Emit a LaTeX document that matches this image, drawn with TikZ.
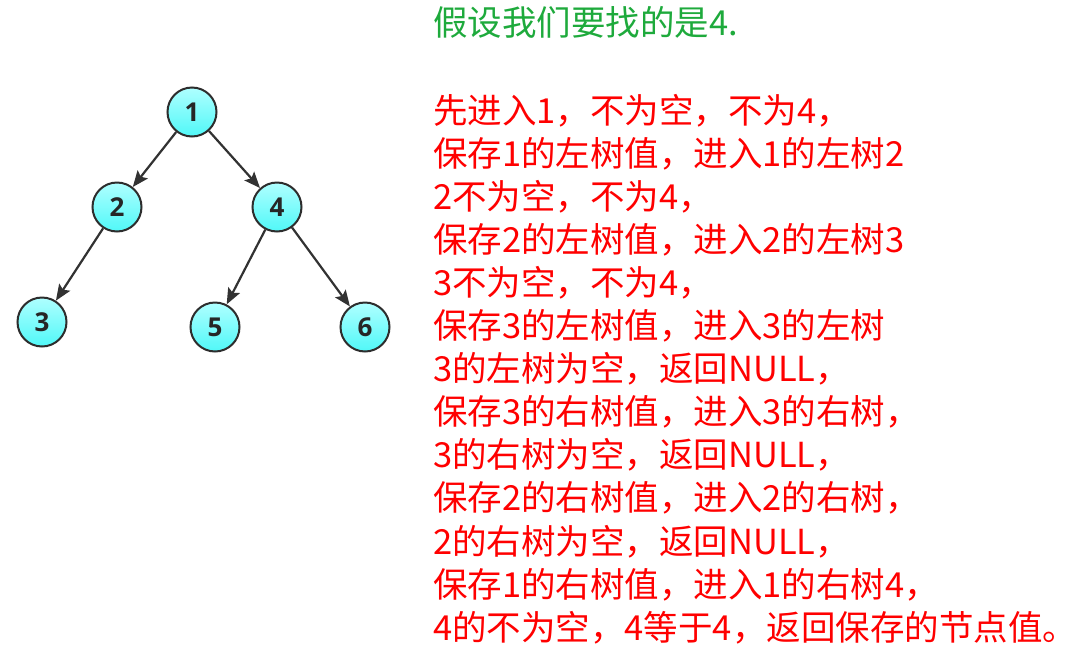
\documentclass[tikz,border=0pt]{standalone}
\usepackage{fontspec}
\usetikzlibrary{arrows.meta}
\newfontfamily\cjk{Noto Sans CJK SC}
\newfontfamily\labfont{Open Sans}
\definecolor{txtred}{RGB}{255,0,0}
\definecolor{txtgreen}{RGB}{30,170,60}
\definecolor{nodeedge}{RGB}{45,45,45}
\definecolor{edgegray}{RGB}{50,50,50}
\definecolor{cyantop}{RGB}{175,255,255}
\definecolor{cyanbot}{RGB}{80,248,248}
\tikzset{
  treenode/.style={circle, draw=nodeedge, line width=2pt, minimum size=49pt, inner sep=0pt,
    top color=cyantop, bottom color=cyanbot, text=black!85,
    font=\labfont\fontsize{26}{26}\selectfont\bfseries},
  treeedge/.style={draw=edgegray, line width=2.2pt, arrows={-Stealth[length=16pt,width=13pt,inset=3pt]}},
  redline/.style={anchor=base west, inner sep=0pt, text=txtred, font=\cjk\fontsize{34.5}{34.5}\selectfont},
  greenline/.style={anchor=base west, inner sep=0pt, text=txtgreen, font=\cjk\fontsize{34.5}{34.5}\selectfont}
}
\begin{document}
\begin{tikzpicture}[x=1pt,y=-1pt]
\useasboundingbox (0,0) rectangle (1079,670);
\fill[white] (0,0) rectangle (1079,670);
% tree
\node[treenode] (n1) at (192,112) {1};
\node[treenode] (n2) at (117,207) {2};
\node[treenode] (n4) at (277,207) {4};
\node[treenode] (n3) at (42,322) {3};
\node[treenode] (n5) at (215,327) {5};
\node[treenode] (n6) at (365,327) {6};
\draw[treeedge] (n1) -- (n2);
\draw[treeedge] (n1) -- (n4);
\draw[treeedge] (n2) -- (n3);
\draw[treeedge] (n4) -- (n5);
\draw[treeedge] (n4) -- (n6);
% text
\node[greenline] (g0) at (433,35) {假设我们要找的是4.};
\node[redline] (r0) at (433,123) {先进入1，不为空，不为4，};
\node[redline] (r1) at (433,166.1) {保存1的左树值，进入1的左树2};
\node[redline] (r2) at (433,209.2) {2不为空，不为4，};
\node[redline] (r3) at (433,252.3) {保存2的左树值，进入2的左树3};
\node[redline] (r4) at (433,295.4) {3不为空，不为4，};
\node[redline] (r5) at (433,338.5) {保存3的左树值，进入3的左树};
\node[redline] (r6) at (433,381.6) {3的左树为空，返回NULL，};
\node[redline] (r7) at (433,424.7) {保存3的右树值，进入3的右树，};
\node[redline] (r8) at (433,467.8) {3的右树为空，返回NULL，};
\node[redline] (r9) at (433,510.9) {保存2的右树值，进入2的右树，};
\node[redline] (r10) at (433,554) {2的右树为空，返回NULL，};
\node[redline] (r11) at (433,597.1) {保存1的右树值，进入1的右树4，};
\node[redline] (r12) at (433,640.2) {4的不为空，4等于4，返回保存的节点值。};
\end{tikzpicture}
\end{document}
